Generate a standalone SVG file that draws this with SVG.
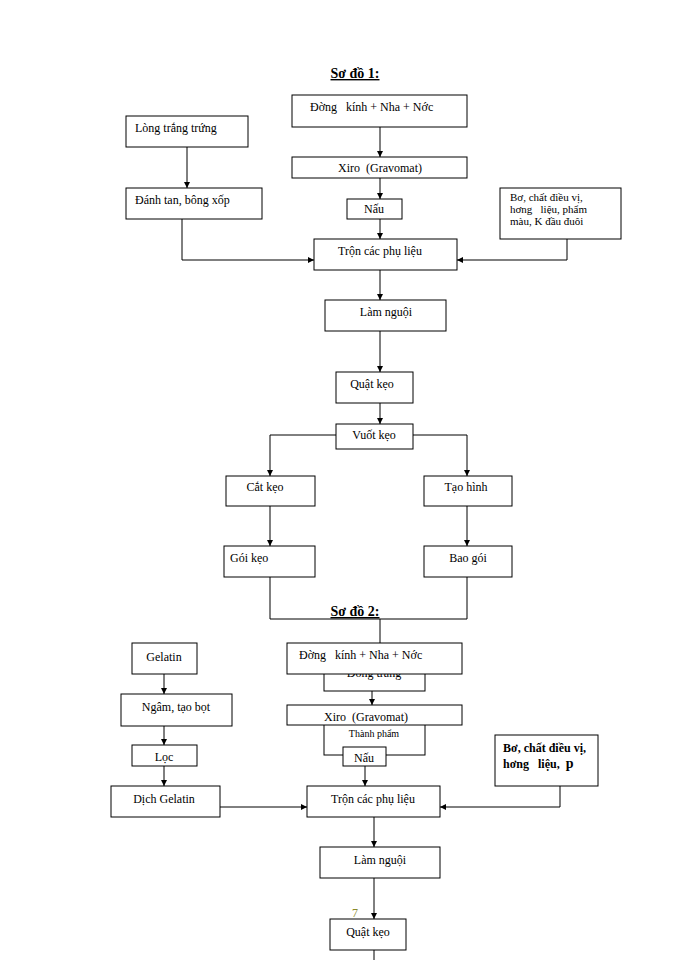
<svg xmlns="http://www.w3.org/2000/svg" width="700" height="960" viewBox="0 0 700 960">
<style>
rect{fill:#fff;stroke:#000;stroke-width:1}
text{font-family:"Liberation Serif",serif;font-size:12px;fill:#000;white-space:pre}
.c{text-anchor:middle}
.t{font-size:14px;font-weight:bold;text-decoration:underline}
#conn path{fill:none;stroke:#000;stroke-width:1}
</style>
<defs><marker id="a" markerWidth="6" markerHeight="6" refX="6" refY="3" orient="auto" markerUnits="userSpaceOnUse"><path d="M0,0L6,3L0,6z" fill="#000"/></marker></defs>
<text class="t c" x="355" y="78">Sơ đồ 1:</text>
<g id="conn">
<path d="M380,127V157" marker-end="url(#a)"/>
<path d="M187,147V188" marker-end="url(#a)"/>
<path d="M380,178V199" marker-end="url(#a)"/>
<path d="M380,219V239" marker-end="url(#a)"/>
<path d="M182,219V260H314" marker-end="url(#a)"/>
<path d="M567,239V260H457" marker-end="url(#a)"/>
<path d="M380,270V300" marker-end="url(#a)"/>
<path d="M380,331V372" marker-end="url(#a)"/>
<path d="M380,403V424" marker-end="url(#a)"/>
<path d="M336,435H270V476" marker-end="url(#a)"/>
<path d="M413,435H467V476" marker-end="url(#a)"/>
<path d="M270,506V546" marker-end="url(#a)"/>
<path d="M467,506V546" marker-end="url(#a)"/>
<path d="M270,577V619H467V577"/>
<path d="M380,619V643"/>
<path d="M164,674V694" marker-end="url(#a)"/>
<path d="M164,726V745" marker-end="url(#a)"/>
<path d="M164,766V786" marker-end="url(#a)"/>
<path d="M372,674V705" marker-end="url(#a)"/>
<path d="M365,725V747" marker-end="url(#a)"/>
<path d="M365,766V786" marker-end="url(#a)"/>
<path d="M220,807H307" marker-end="url(#a)"/>
<path d="M560,786V807H440" marker-end="url(#a)"/>
<path d="M374,817V847" marker-end="url(#a)"/>
<path d="M374,878V919" marker-end="url(#a)"/>
<path d="M374,950V960"/>
</g>
<g id="n1"><rect x="292" y="95" width="175" height="32"/><text x="310" y="111">Đờng   kính + Nha + Nớc</text></g>
<g id="n2"><rect x="126" y="116" width="122" height="31"/><text x="135" y="132">Lòng trắng trứng</text></g>
<g id="n3"><rect x="292" y="157" width="175" height="21"/><text class="c" x="380" y="172">Xiro  (Gravomat)</text></g>
<g id="n4"><rect x="126" y="188" width="136" height="31"/><text x="135" y="204">Đánh tan, bông xốp</text></g>
<g id="n5"><rect x="347" y="199" width="55" height="20"/><text class="c" x="374" y="213">Nấu</text></g>
<g id="n6" style="font-size:11px"><rect x="500" y="188" width="121" height="51"/><text x="510" y="201" style="font-size:11px">Bơ, chất điều vị,</text><text x="510" y="213" style="font-size:11px">hơng   liệu, phẩm</text><text x="510" y="225" style="font-size:11px">màu, K đầu đuôi</text></g>
<g id="n7"><rect x="314" y="239" width="143" height="31"/><text class="c" x="380" y="255">Trộn các phụ liệu</text></g>
<g id="n8"><rect x="325" y="300" width="121" height="31"/><text class="c" x="386" y="316">Làm nguội</text></g>
<g id="n9"><rect x="336" y="372" width="77" height="31"/><text class="c" x="372" y="388">Quật kẹo</text></g>
<g id="n10"><rect x="336" y="424" width="77" height="25"/><text class="c" x="374" y="439">Vuốt kẹo</text></g>
<g id="n11"><rect x="226" y="476" width="89" height="30"/><text class="c" x="265" y="491">Cắt kẹo</text></g>
<g id="n12"><rect x="424" y="476" width="88" height="30"/><text class="c" x="466" y="491">Tạo hình</text></g>
<g id="n13"><rect x="224" y="546" width="91" height="31"/><text x="230" y="562">Gói kẹo</text></g>
<g id="n14"><rect x="424" y="546" width="88" height="31"/><text class="c" x="468" y="562">Bao gói</text></g>
<text class="t c" x="355" y="616">Sơ đồ 2:</text>
<g id="h1"><rect x="324" y="665" width="101" height="26"/><text class="c" x="374" y="677">Đóng trắng</text></g>
<g id="h2"><rect x="324" y="720" width="101" height="35"/><text class="c" x="374" y="737" style="font-size:10px">Thành phẩm</text></g>
<g id="m1"><rect x="287" y="643" width="175" height="31"/><text x="299" y="659">Đờng   kính + Nha + Nớc</text></g>
<g id="m2"><rect x="132" y="643" width="65" height="31"/><text class="c" x="164" y="661">Gelatin</text></g>
<g id="m3"><rect x="121" y="694" width="111" height="32"/><text class="c" x="176" y="711">Ngâm, tạo bọt</text></g>
<g id="m4"><rect x="287" y="705" width="175" height="20"/><text class="c" x="366" y="721">Xiro  (Gravomat)</text></g>
<g id="m5"><rect x="132" y="745" width="65" height="21"/><text class="c" x="164" y="761">Lọc</text></g>
<g id="m6"><rect x="343" y="747" width="43" height="19"/><text class="c" x="364" y="762">Nấu</text></g>
<g id="m7"><rect x="495" y="735" width="103" height="51"/><text x="503" y="752" style="font-weight:bold">Bơ, chất điều vị,</text><text x="503" y="768" style="font-weight:bold">hơng   liệu,  <tspan style="font-size:14px">p</tspan></text></g>
<g id="m8"><rect x="111" y="786" width="109" height="31"/><text class="c" x="164" y="803">Dịch Gelatin</text></g>
<g id="m9"><rect x="307" y="786" width="133" height="31"/><text class="c" x="373" y="803">Trộn các phụ liệu</text></g>
<g id="m10"><rect x="320" y="847" width="120" height="31"/><text class="c" x="380" y="864">Làm nguội</text></g>
<text class="c" x="355" y="917" style="fill:#8a8a2a">7</text>
<g id="m11"><rect x="330" y="919" width="76" height="31"/><text class="c" x="368" y="936">Quật kẹo</text></g>
</svg>
